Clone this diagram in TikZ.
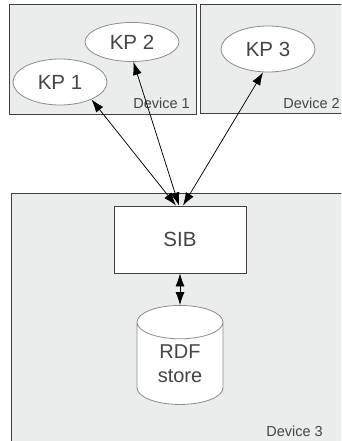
\documentclass[tikz,border=0pt]{standalone}
\usepackage{fontspec}
\setmainfont{Liberation Sans}
\usetikzlibrary{arrows.meta,shapes.geometric}

\definecolor{devfill}{HTML}{EBECEC}
\definecolor{txtgray}{HTML}{454545}

\tikzset{
	device/.style={draw=black!75,fill=devfill,line width=0.9pt},
	devlabel/.style={text=txtgray,font=\fontsize{14.5}{16}\selectfont,anchor=base east,inner sep=0pt},
	kp/.style={ellipse,draw=black!45,fill=white,line width=0.8pt,minimum width=94pt,minimum height=46pt,inner sep=0pt,text=txtgray,font=\fontsize{20.5}{24}\selectfont},
	sibbox/.style={rectangle,draw=black!75,fill=white,line width=0.9pt,minimum width=132pt,minimum height=67pt,text=txtgray,font=\fontsize{20.5}{24}\selectfont},
	store/.style={cylinder,shape border rotate=90,aspect=0.75,draw=black!45,fill=white,line width=0.8pt,minimum width=86pt,minimum height=99pt,inner sep=0pt,align=center,text=txtgray,font=\fontsize{20}{24}\selectfont},
	link/.style={{Latex[length=13pt,width=9pt]}-{Latex[length=13pt,width=9pt]},line width=0.75pt}
}

\begin{document}
\begin{tikzpicture}[x=1pt,y=1pt]
	\useasboundingbox (0,0) rectangle (341,441);
	\clip (0,0) rectangle (341,441);
	
	% devices
	\draw[device] (9,437) rectangle (196,327);
	\draw[device] (200,437) rectangle (350,328);
	\draw[device] (11,248) rectangle (350,-10);
	\node[devlabel] (dev1) at (190,332) {Device 1};
	\node[devlabel] (dev2) at (340,332) {Device 2};
	\node[devlabel] (dev3) at (323,5) {Device 3};
	
	% knowledge processors
	\node[kp] (kp1) at (60,359) {KP 1};
	\node[kp,minimum height=39pt] (kp2) at (132,399) {KP 2};
	\node[kp] (kp3) at (268,392) {KP 3};
	
	\node[sibbox] (sib) at (180,201.5) {SIB};
	\node[store] (rdf) at (180,77.5) {RDF\\store};
	
	\draw[link] ([xshift=-4pt]sib.north) -- (kp1.331);
	\draw[link] ([xshift=-1pt]sib.north) -- (kp2.274);
	\draw[link] ([xshift=3pt]sib.north) -- (kp3.258);
	\draw[link] (sib.south) -- (rdf.top);
\end{tikzpicture}
\end{document}
